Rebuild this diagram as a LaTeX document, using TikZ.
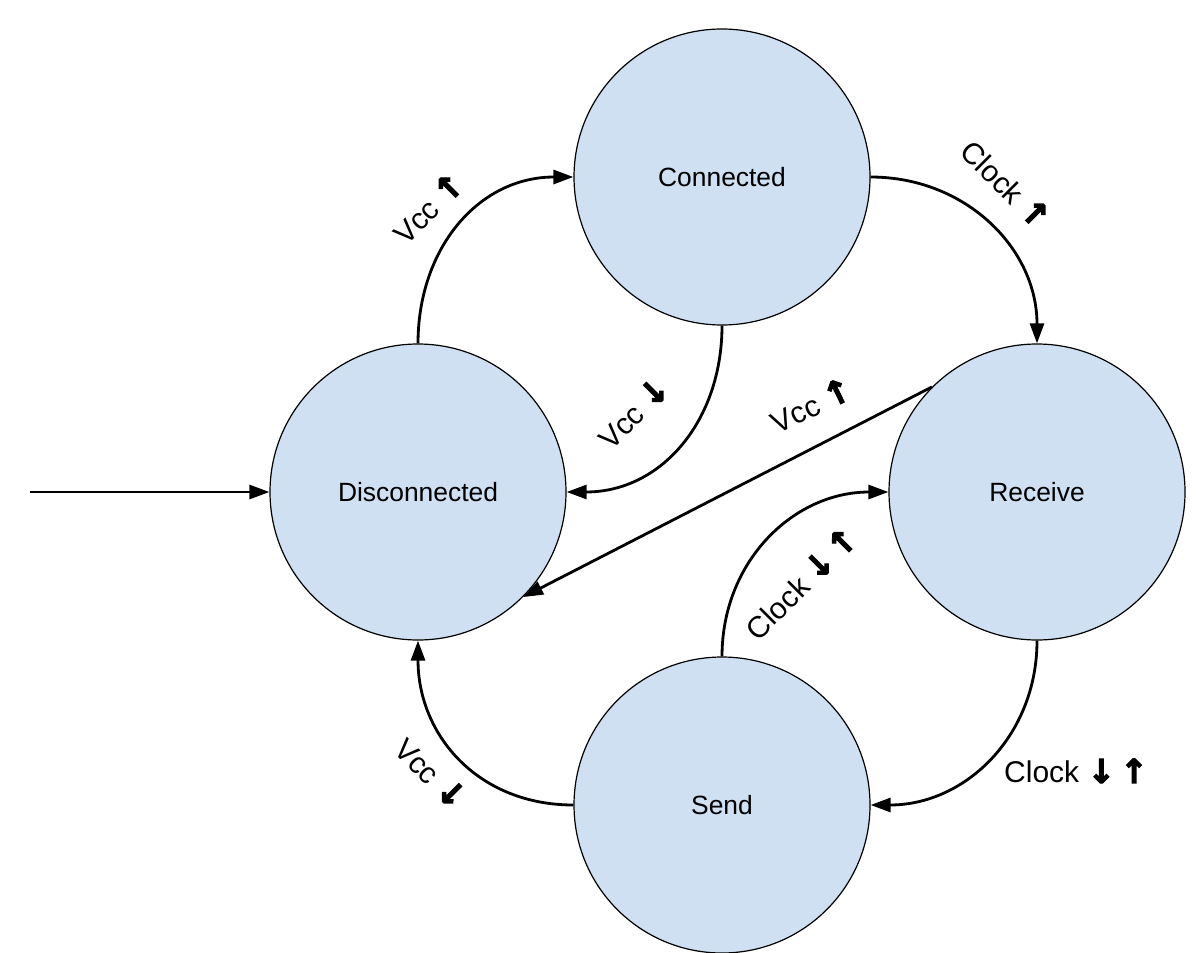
\documentclass[tikz,border=0pt]{standalone}
\usepackage{fontspec}
\setmainfont{Liberation Sans}
\newfontfamily\arrfont{DejaVu Sans Bold}[FakeBold=3.5]
\usetikzlibrary{arrows.meta}
\definecolor{statefill}{RGB}{206,224,242}
\newcommand{\up}{{\arrfont\fontsize{16.5pt}{17pt}\selectfont ↑}}
\newcommand{\dn}{{\arrfont\fontsize{16.5pt}{17pt}\selectfont ↓}}
\tikzset{
  state/.style={circle, draw=black, line width=0.6pt, fill=statefill, minimum size=148pt, inner sep=0pt, font=\fontsize{13.2pt}{15pt}\selectfont},
  trans/.style={line width=1.4pt, -{Triangle[length=10pt,width=7pt]}},
  lbl/.style={font=\fontsize{15pt}{17pt}\selectfont, inner sep=1pt}
}
\begin{document}
\begin{tikzpicture}[x=0.5pt,y=-0.5pt]
\useasboundingbox (0,0) rectangle (1197,952);
\fill[white] (0,0) rectangle (1197,952);
\node[state] (Conn) at (722,177) {Connected};
\node[state] (Disc) at (418,492) {Disconnected};
\node[state] (Recv) at (1037,492) {Receive};
\node[state] (Send) at (722,805) {Send};
\coordinate (start) at (30,492);
\draw[trans] (start) -- (Disc.west);
\draw[trans] (Disc.north) .. controls +(0,-95) and +(-95,0) .. (Conn.west);
\draw[trans] (Conn.south) .. controls +(0,95) and +(95,0) .. (Disc.east);
\draw[trans] (Conn.east) .. controls +(95,0) and +(0,-95) .. (Recv.north);
\draw[trans] (Recv.135) -- (Disc.-45);
\draw[trans] (Send.north) .. controls +(0,-95) and +(-95,0) .. (Recv.west);
\draw[trans] (Recv.south) .. controls +(0,95) and +(95,0) .. (Send.east);
\draw[trans] (Send.west) .. controls +(-95,0) and +(0,95) .. (Disc.south);
\node[lbl, rotate=45] (l1) at (428,208) {Vcc \up};
\node[lbl, rotate=-45] (l2) at (1006,184) {Clock \up};
\node[lbl, rotate=45] (l3) at (633,413) {Vcc \dn};
\node[lbl, rotate=26] (l4) at (811,405) {Vcc \up};
\node[lbl, rotate=45] (l5) at (801,583) {Clock \dn\,\up};
\node[lbl] (l6) at (1076,771) {Clock \dn\,\up};
\node[lbl, rotate=-45] (l7) at (431,773) {Vcc \dn};
\end{tikzpicture}
\end{document}
